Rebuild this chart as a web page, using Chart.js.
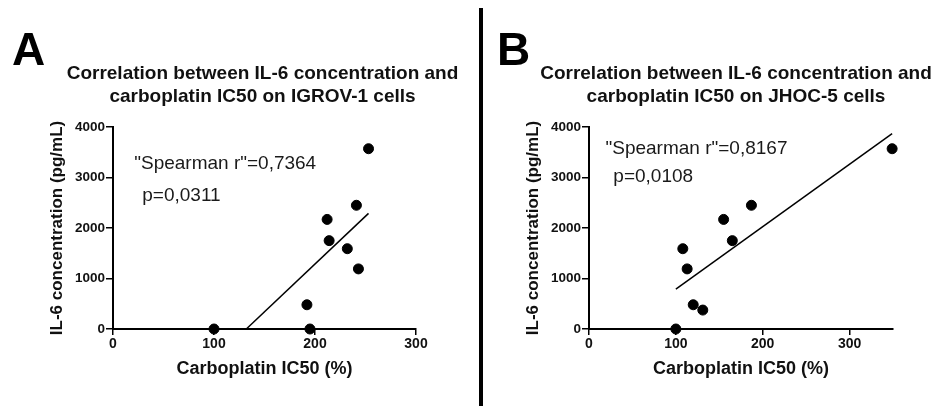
<!DOCTYPE html>
<html>
<head>
<meta charset="utf-8">
<script src="https://cdn.jsdelivr.net/npm/chart.js@4/dist/chart.umd.min.js"></script>
<style>
  body { margin: 0; background: #fff; }
  #wrap { position: relative; width: 943px; height: 406px; overflow: hidden; font-family: "Liberation Sans", Arial, sans-serif; }
  canvas { position: absolute; top: 0; }
  .letter { position: absolute; font-weight: bold; font-size: 46px; line-height: 46px; color: #000; }
  #divider { position: absolute; left: 479px; top: 8px; width: 4px; height: 398px; background: #000; }
</style>
</head>
<body>
<div id="wrap">
  <canvas id="chartA" width="470" height="406" style="left:0px"></canvas>
  <canvas id="chartB" width="423" height="406" style="left:520px"></canvas>
  <div class="letter" style="left:12px; top:26px">A</div>
  <div class="letter" style="left:497px; top:26px">B</div>
  <div id="divider"></div>
</div>
<script>
// values
const yTicks = [0, 1000, 2000, 3000, 4000];
const xTicksA = [0, 100, 200, 300];
const xTicksB = [0, 100, 200, 300];

// IGROV-1
const ic50A = [100, 195, 192, 212, 214, 232, 243, 241, 253];
const il6A = [0, 0, 480, 2170, 1750, 1590, 1190, 2450, 3570];
const fitXA = [132, 253];
const fitYA = [0, 2290];

// JHOC-5
const ic50B = [100, 108, 113, 120, 131, 155, 165, 187, 349];
const il6B = [0, 1590, 1190, 480, 375, 2170, 1750, 2450, 3570];
const fitXB = [100, 349];
const fitYB = [790, 3870];

Chart.defaults.font.family = '"Liberation Sans", Arial, sans-serif';
Chart.defaults.color = '#111';

// two-line panel title, centred over the plot (wider than the plot itself)
const panelTitle = {
    id: 'panelTitle',
    afterDraw(chart, args, opts) {
        const ctx = chart.ctx;
        const a = chart.chartArea;
        const cx = (a.left + a.right) / 2 + opts.shift;
        ctx.save();
        ctx.font = 'bold 19px "Liberation Sans", Arial, sans-serif';
        ctx.fillStyle = '#111';
        ctx.textAlign = 'center';
        ctx.textBaseline = 'middle';
        opts.text.forEach((t, i) => ctx.fillText(t, cx, 74 + i * 23));
        ctx.restore();
    }
};

// draws the Spearman text inside the plot, anchored in data units
const statsText = {
    id: 'statsText',
    afterDatasetsDraw(chart, args, opts) {
        const ctx = chart.ctx;
        const xs = chart.scales.x, ys = chart.scales.y;
        ctx.save();
        ctx.font = '19px "Liberation Sans", Arial, sans-serif';
        ctx.fillStyle = '#1a1a1a';
        ctx.textAlign = 'left';
        ctx.textBaseline = 'middle';
        opts.lines.forEach(l => {
            ctx.fillText(l.text, xs.getPixelForValue(l.x), ys.getPixelForValue(l.y));
        });
        ctx.restore();
    }
};

function toPoints(xs, ys) {
    return xs.map((x, i) => ({ x: x, y: ys[i] }));
}

function makeChart(id, cfg) {
    return new Chart(document.getElementById(id), {
        type: 'scatter',
        data: {
            datasets: [{
                data: toPoints(cfg.x, cfg.y),
                backgroundColor: '#000',
                borderColor: '#000',
                pointRadius: 5,
                pointHoverRadius: 5,
                clip: false
            }, {
                data: toPoints(cfg.fitX, cfg.fitY),
                showLine: true,
                borderColor: '#000',
                borderWidth: 1.5,
                pointRadius: 0,
                clip: false
            }]
        },
        options: {
            responsive: false,
            animation: false,
            layout: { padding: { left: cfg.padLeft, right: cfg.padRight, top: 127, bottom: 0 } },
            plugins: {
                legend: { display: false },
                tooltip: { enabled: false },
                title: { display: false },
                panelTitle: { text: cfg.title, shift: cfg.titleShift },
                statsText: { lines: cfg.stats }
            },
            scales: {
                x: {
                    type: 'linear',
                    min: 0,
                    max: cfg.xMax,
                    afterBuildTicks: s => { s.ticks = cfg.xTicks.map(v => ({ value: v })); },
                    afterFit: s => { s.height = 77; },
                    grid: { drawOnChartArea: false, color: '#000', lineWidth: 1.5, tickLength: 6 },
                    border: { color: '#000', width: 2 },
                    ticks: {
                        font: { size: 14, weight: 'bold' }, color: '#111', padding: 1, maxRotation: 0,
                        callback: v => String(v)
                    },
                    title: {
                        display: true,
                        text: 'Carboplatin IC50 (%)',
                        color: '#111',
                        font: { size: 18, weight: 'bold' },
                        padding: { top: 0, bottom: 26 }
                    }
                },
                y: {
                    type: 'linear',
                    min: 0,
                    max: 4000,
                    afterBuildTicks: s => { s.ticks = yTicks.map(v => ({ value: v })); },
                    afterFit: s => { s.width = 66; },
                    grid: { drawOnChartArea: false, color: '#000', lineWidth: 1.5, tickLength: 7 },
                    border: { color: '#000', width: 2 },
                    ticks: {
                        font: { size: 13.5, weight: 'bold' }, color: '#111', padding: 1,
                        callback: v => String(v)
                    },
                    title: {
                        display: true,
                        text: 'IL-6 concentration (pg/mL)',
                        color: '#111',
                        font: { size: 17, weight: 'bold' },
                        padding: { top: 0, bottom: 0 }
                    }
                }
            }
        },
        plugins: [panelTitle, statsText]
    });
}

makeChart('chartA', {
    x: ic50A, y: il6A, fitX: fitXA, fitY: fitYA,
    xMax: 300, xTicks: xTicksA,
    padLeft: 47, padRight: 54, titleShift: -2,
    title: ['Correlation between IL-6 concentration and', 'carboplatin IC50 on IGROV-1 cells'],
    stats: [
        { text: '"Spearman r"=0,7364', x: 21, y: 3264 },
        { text: 'p=0,0311', x: 29, y: 2632 }
    ]
});

makeChart('chartB', {
    x: ic50B, y: il6B, fitX: fitXB, fitY: fitYB,
    xMax: 350, xTicks: xTicksB,
    padLeft: 3, padRight: 50, titleShift: -5,
    title: ['Correlation between IL-6 concentration and', 'carboplatin IC50 on JHOC-5 cells'],
    stats: [
        { text: '"Spearman r"=0,8167', x: 19, y: 3560 },
        { text: 'p=0,0108', x: 28, y: 3007 }
    ]
});
</script>
</body>
</html>
